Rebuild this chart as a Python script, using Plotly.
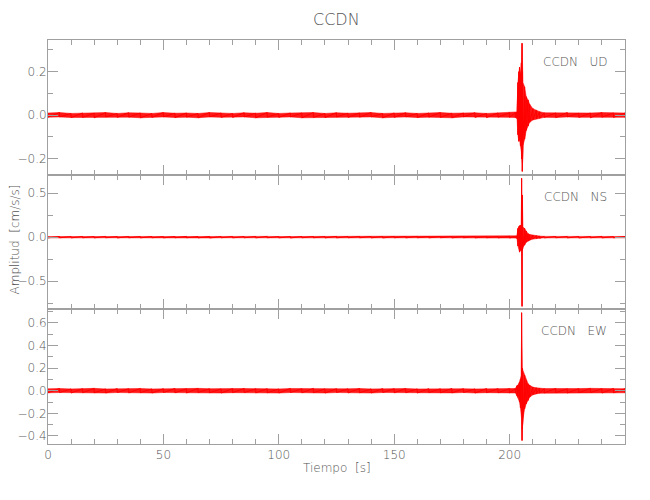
import plotly.graph_objects as go
from plotly.subplots import make_subplots

# ---- data (envelopes) ----
time_s = [0, 5, 10, 15, 20, 25, 30, 35, 40, 45, 50, 55, 60, 65, 70, 75, 80, 85, 90, 95,
          100, 105, 110, 115, 120, 125, 130, 135, 140, 145, 150, 155, 160, 165, 170, 175, 180, 185, 190, 195,
          200, 202.5, 203.2, 203.6, 204.0, 204.3, 204.7, 205.1, 205.2, 205.4, 205.5, 205.8, 206.5, 207.2,
          208.0, 208.7, 210.1, 211.6, 213.0,
          215, 220, 225, 230, 235, 240, 245, 250]

ud_upper = [0.010, 0.012, 0.008, 0.010, 0.009, 0.012, 0.008, 0.011, 0.010, 0.008, 0.012, 0.009, 0.010, 0.008,
            0.012, 0.010, 0.008, 0.011, 0.009, 0.012, 0.008, 0.010, 0.010, 0.012, 0.008, 0.011, 0.009, 0.010,
            0.012, 0.008, 0.010, 0.011, 0.008, 0.010, 0.012, 0.009, 0.010, 0.011, 0.008, 0.010,
            0.011, 0.012, 0.015, 0.150, 0.200, 0.220, 0.190, 0.240, 0.250, 0.330, 0.200, 0.150, 0.130, 0.085,
            0.070, 0.050, 0.030, 0.022, 0.016,
            0.011, 0.010, 0.012, 0.009, 0.010, 0.012, 0.010, 0.010]
ud_lower = [-0.009, -0.008, -0.011, -0.010, -0.012, -0.008, -0.010, -0.009, -0.012, -0.010, -0.008, -0.011,
            -0.009, -0.012, -0.008, -0.010, -0.010, -0.008, -0.012, -0.009, -0.010, -0.008, -0.012, -0.010,
            -0.011, -0.008, -0.010, -0.009, -0.008, -0.012, -0.010, -0.008, -0.011, -0.009, -0.010, -0.012,
            -0.008, -0.010, -0.011, -0.009,
            -0.010, -0.011, -0.015, -0.090, -0.120, -0.110, -0.140, -0.170, -0.200, -0.200, -0.258, -0.140,
            -0.110, -0.070, -0.050, -0.033, -0.022, -0.017, -0.014,
            -0.010, -0.011, -0.008, -0.010, -0.012, -0.009, -0.010, -0.010]

ns_upper = [0.007, 0.008, 0.007, 0.008, 0.007, 0.009, 0.007, 0.008, 0.007, 0.008, 0.007, 0.008, 0.009, 0.007,
            0.008, 0.007, 0.008, 0.007, 0.008, 0.009, 0.007, 0.007, 0.008, 0.008, 0.007, 0.009, 0.007, 0.008,
            0.008, 0.007, 0.008, 0.007, 0.009, 0.007, 0.008, 0.008, 0.007, 0.008, 0.007, 0.008,
            0.010, 0.010, 0.015, 0.100, 0.120, 0.130, 0.135, 0.120, 0.670, 0.200, 0.480, 0.115, 0.100, 0.070,
            0.040, 0.030, 0.022, 0.016, 0.012,
            0.009, 0.008, 0.008, 0.007, 0.008, 0.009, 0.007, 0.008]
ns_lower = [-0.008, -0.007, -0.008, -0.007, -0.008, -0.007, -0.009, -0.007, -0.008, -0.007, -0.008, -0.007,
            -0.007, -0.008, -0.009, -0.007, -0.008, -0.007, -0.008, -0.007, -0.008, -0.009, -0.007, -0.007,
            -0.008, -0.008, -0.007, -0.007, -0.008, -0.009, -0.007, -0.008, -0.007, -0.008, -0.007, -0.008,
            -0.007, -0.008, -0.007, -0.008,
            -0.010, -0.010, -0.015, -0.100, -0.140, -0.170, -0.150, -0.140, -0.200, -0.787, -0.150, -0.115,
            -0.090, -0.058, -0.045, -0.035, -0.022, -0.016, -0.012,
            -0.008, -0.007, -0.008, -0.009, -0.007, -0.008, -0.007, -0.008]

ew_upper = [0.017, 0.020, 0.016, 0.018, 0.021, 0.016, 0.019, 0.018, 0.020, 0.016, 0.018, 0.020, 0.017, 0.021,
            0.018, 0.016, 0.019, 0.020, 0.017, 0.018, 0.016, 0.020, 0.018, 0.021, 0.016, 0.018, 0.017, 0.020,
            0.016, 0.019, 0.018, 0.020, 0.016, 0.018, 0.017, 0.020, 0.018, 0.016, 0.019, 0.018,
            0.019, 0.020, 0.045, 0.050, 0.060, 0.077, 0.100, 0.137, 0.690, 0.315, 0.200, 0.180, 0.137, 0.092,
            0.0625, 0.048, 0.032, 0.026, 0.022,
            0.019, 0.020, 0.017, 0.019, 0.021, 0.018, 0.020, 0.018]
ew_lower = [-0.018, -0.016, -0.020, -0.017, -0.018, -0.020, -0.016, -0.019, -0.017, -0.020, -0.016, -0.018,
            -0.020, -0.016, -0.018, -0.020, -0.017, -0.016, -0.019, -0.018, -0.020, -0.016, -0.018, -0.017,
            -0.020, -0.016, -0.019, -0.018, -0.020, -0.016, -0.018, -0.017, -0.020, -0.016, -0.018, -0.019,
            -0.016, -0.020, -0.017, -0.018,
            -0.019, -0.020, -0.045, -0.057, -0.080, -0.100, -0.150, -0.220, -0.250, -0.440, -0.340, -0.250,
            -0.160, -0.116, -0.086, -0.057, -0.036, -0.028, -0.022,
            -0.019, -0.017, -0.020, -0.018, -0.016, -0.020, -0.018, -0.018]

station = "CCDN"
components = ["UD", "NS", "EW"]
x_ticks = [0, 50, 100, 150, 200]

# ---- figure ----
RED = "#ff0000"
AX = "#a0a0a0"
TXT = "#555555"
FONT = "DejaVu Sans, sans-serif"
W = 200  # light weight for the thin stroke look

fig = make_subplots(rows=3, cols=1, shared_xaxes=True, vertical_spacing=0)

series = [(ud_upper, ud_lower), (ns_upper, ns_lower), (ew_upper, ew_lower)]
for i, (up, lo) in enumerate(series, start=1):
    # filled envelope band
    fig.add_trace(go.Scatter(
        x=time_s + time_s[::-1], y=up + lo[::-1],
        mode="lines", fill="toself", fillcolor="rgba(255,0,0,0.9)",
        line=dict(color=RED, width=0.5), hoverinfo="skip", showlegend=False),
        row=i, col=1)
    # swing line: at each time the trace goes from its upper to its lower excursion
    zx, zy = [], []
    for t, a, b in zip(time_s, up, lo):
        zx += [t, t]
        zy += [a, b]
    fig.add_trace(go.Scatter(
        x=zx, y=zy, mode="lines", line=dict(color=RED, width=1),
        hoverinfo="skip", showlegend=False),
        row=i, col=1)

y_ranges = [[-0.273, 0.345], [-0.821, 0.711], [-0.471, 0.72]]
y_dticks = [0.2, 0.5, 0.2]
y_minor = [0.1, 0.25, 0.1]
label_y = [0.244, 0.457, 0.527]

for i in range(3):
    fig.update_yaxes(
        range=y_ranges[i], dtick=y_dticks[i], tick0=0, tickformat=".1f",
        showline=True, linecolor=AX, linewidth=1, mirror="ticks",
        ticks="inside", ticklen=10, tickcolor=AX, tickwidth=1,
        minor=dict(dtick=y_minor[i], tick0=0, ticks="inside", ticklen=5, tickcolor=AX),
        showgrid=False, zeroline=False, automargin=False,
        tickfont=dict(family=FONT, size=12, color=TXT, weight=W),
        ticklabelstandoff=-2,
        row=i + 1, col=1)
    fig.add_annotation(
        x=243, y=label_y[i], xref="x", yref=("y" if i == 0 else f"y{i+1}"),
        text=f"{station}\u00a0\u00a0\u00a0{components[i]}", showarrow=False,
        xanchor="right", yanchor="middle",
        font=dict(family=FONT, size=12, color=TXT, weight=W))

fig.update_xaxes(
    range=[0, 250], tickvals=x_ticks,
    showline=True, linecolor=AX, linewidth=1, mirror="ticks",
    ticks="inside", ticklen=10, tickcolor=AX, tickwidth=1,
    minor=dict(dtick=10, tick0=0, ticks="inside", ticklen=5, tickcolor=AX),
    showgrid=False, zeroline=False, automargin=False,
    tickfont=dict(family=FONT, size=12, color=TXT, weight=W))

# axis titles and main title as annotations (fixed positions)
fig.add_annotation(x=0.5, y=-0.059, xref="paper", yref="paper", text="Tiempo  [s]",
                   showarrow=False, xanchor="center", yanchor="middle",
                   font=dict(family=FONT, size=12, color=TXT, weight=W))
fig.add_annotation(x=-0.058, y=0.505, xref="paper", yref="paper", text="Amplitud  [cm/s/s]",
                   showarrow=False, xanchor="center", yanchor="middle", textangle=-90,
                   font=dict(family=FONT, size=12, color=TXT, weight=W))
fig.add_annotation(x=0.5, y=1.05, xref="paper", yref="paper", text=station,
                   showarrow=False, xanchor="center", yanchor="middle",
                   font=dict(family=FONT, size=16, color=TXT, weight=W))

# page body adds an 8px offset, so margins are shifted to land the plot area at x 48-625, y 40-444
fig.update_layout(
    width=650, height=500,
    margin=dict(l=40, r=33, t=32, b=64),
    paper_bgcolor="white", plot_bgcolor="white",
)

fig.write_html("out.html")
